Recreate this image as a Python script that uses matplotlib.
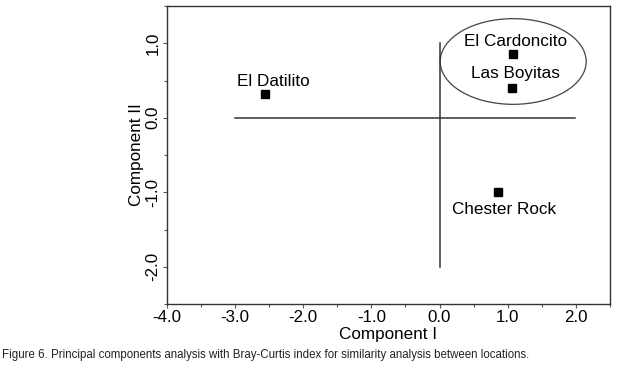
import matplotlib.pyplot as plt
from matplotlib.patches import Ellipse
from matplotlib.ticker import MultipleLocator

# Site scores on the first two components
sites = ["El Datilito", "El Cardoncito", "Las Boyitas", "Chester Rock"]
comp1 = [-2.56, 1.08, 1.07, 0.86]
comp2 = [0.32, 0.85, 0.40, -1.00]

# label positions (text centre)
label_x = [-2.43, 1.11, 1.12, 0.94]
label_y = [0.49, 1.02, 0.60, -1.23]

xticks = [-4.0, -3.0, -2.0, -1.0, 0.0, 1.0, 2.0]
yticks = [-2.0, -1.0, 0.0, 1.0]

plt.rcParams['font.family'] = ['Liberation Sans', 'DejaVu Sans']

fig = plt.figure(figsize=(6.17, 3.68), dpi=100)
ax = fig.add_axes([0.2702, 0.1739, 0.7185, 0.8098])

# reference axes through the origin
ax.plot([-3.0, 1.98], [0, 0], color='#333333', lw=1.1)
ax.plot([0, 0], [-2.0, 1.0], color='#333333', lw=1.1)

ax.plot(comp1, comp2, 's', color='black', ms=6, ls='none')
for name, tx, ty in zip(sites, label_x, label_y):
    ax.text(tx, ty, name, ha='center', va='center', fontsize=12.3)

# group ellipse around El Cardoncito / Las Boyitas
ax.add_patch(Ellipse((1.08, 0.755), 2.14, 1.15, fill=False,
                     edgecolor='#444444', lw=0.9))

ax.set_xlim(-4.0, 2.5)
ax.set_ylim(-2.5, 1.5)
ax.set_xticks(xticks)
ax.set_xticklabels(["%.1f" % v for v in xticks])
ax.set_yticks(yticks)
ax.set_yticklabels(["%.1f" % v for v in yticks], rotation=90, va='center')
ax.xaxis.set_minor_locator(MultipleLocator(0.5))
ax.yaxis.set_minor_locator(MultipleLocator(0.5))
ax.tick_params(which='both', direction='out', length=3, width=0.8,
               labelsize=12.2, pad=1.5, color='#555555')
ax.tick_params(which='minor', length=2.5)

for s in ax.spines.values():
    s.set_color('#333333')
    s.set_linewidth(1.0)

ax.set_xlabel("Component I", fontsize=12.3, labelpad=1.5)
ax.set_ylabel("Component II", fontsize=12.3, labelpad=1)

fig.text(0.003, 0.028, "Figure 6. Principal components analysis with Bray-Curtis index "
         "for similarity analysis between locations.",
         fontsize=8.3, family=['Liberation Sans Narrow', 'Liberation Sans'],
         color='#222222')

fig.savefig("out.png", dpi=100)
